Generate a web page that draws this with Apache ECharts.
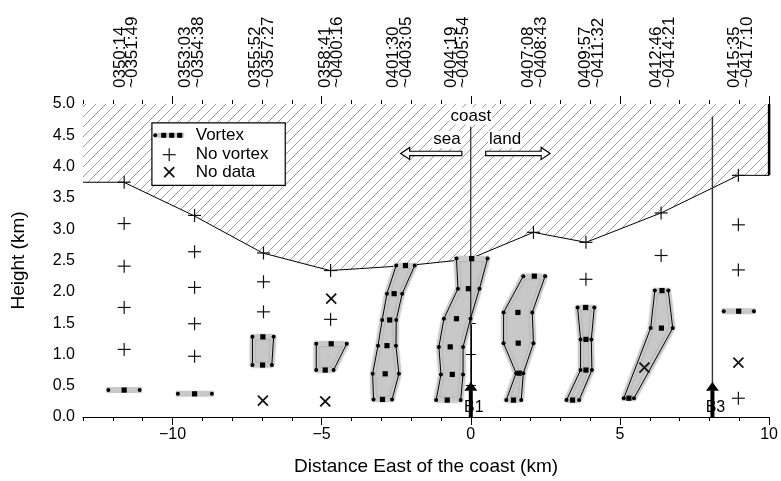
<!DOCTYPE html>
<html><head><meta charset="utf-8">
<script src="https://cdn.jsdelivr.net/npm/echarts@6/dist/echarts.min.js"></script>
<style>html,body{margin:0;padding:0;background:#fff}#c{width:781px;height:481px}</style>
</head><body><div id="c"></div>
<script>
const FONT = '"Liberation Sans", Arial, Helvetica, sans-serif';

// ---- top time labels ----
const timeLabelX = [-11.55, -9.35, -7.0, -4.67, -2.38, -0.45, 2.15, 4.05, 6.43, 9.05];
const timeStart = ['0350:14','0353:03','0355:52','0358:41','0401:30','0404:19','0407:08','0409:57','0412:46','0415:35'];
const timeEnd = ['~0351:49','~0354:38','~0357:27','~0400:16','~0403:05','~0405:54','~0408:43','~0411:32','~0414:21','~0417:10'];

// ---- x ticks / tick labels ----
const xMajorTicks = [-10, -5, 0, 5, 10];
const xMinorTicks = [-13,-12,-11,-10,-9,-8,-7,-6,-5,-4,-3,-2,-1,0,1,2,3,4,5,6,7,8,9,10];

// ---- upper limit of observation (hatched above) ----
const boundaryX = [-13, -11.63, -9.3, -6.98, -4.72, -3.73, -2.1, -0.51, 0.04, 2.1, 3.86, 6.38, 8.97, 10];
const boundaryH = [3.75, 3.75, 3.22, 2.62, 2.34, 2.37, 2.42, 2.5, 2.54, 2.95, 2.79, 3.26, 3.86, 3.86];

// ---- "No vortex" points ----
const plusX = [-11.62,-11.62,-11.62,-11.62,-11.62, -9.26,-9.26,-9.26,-9.26,-9.26, -6.95,-6.95,-6.95, -4.7,-4.7, 2.1, 3.86,3.86, 6.38,6.38, 8.97,8.97,8.97,8.97];
const plusH = [3.75,3.09,2.41,1.75,1.08, 3.22,2.64,2.07,1.49,0.97, 2.62,2.16,1.68, 2.34,1.56, 2.95, 2.79,2.2, 3.26,2.58, 3.86,3.07,2.35,0.3];

// ---- "No data" points ----
const noDataX = [-6.97, -4.68, -4.88, 5.82, 8.97];
const noDataH = [0.26, 1.89, 0.25, 0.79, 0.87];

// ---- vortex columns: heights, left edge, centre, right edge (km) ----
const vortexH = [[0.43],[0.37],[0.83,1.28],[0.75,1.17],[0.28,0.69,1.14,1.55,1.97,2.42],[0.27,0.68,1.12,1.57,2.05,2.53],[0.27,0.70,1.18,1.67,2.25],[0.27,0.75,1.24,1.75],[0.3,1.42,2.02],[1.69]];
const vortexL = [[-12.15],[-9.82],[-7.32,-7.32],[-5.18,-5.18],[-3.26,-3.29,-3.11,-2.97,-2.81,-2.5],[-1.16,-1.0,-1.07,-0.9,-0.43,-0.48],[1.19,1.52,1.1,1.1,1.76],[3.21,3.68,3.68,3.58],[5.13,6.03,6.17],[8.48]];
const vortexC = [[-11.62],[-9.26],[-6.98,-6.97],[-4.88,-4.68],[-2.96,-2.87,-2.81,-2.72,-2.57,-2.19],[-0.79,-0.62,-0.69,-0.48,-0.08,0.03],[1.43,1.62,1.59,1.58,2.13],[3.41,3.86,3.86,3.85],[5.3,6.39,6.41],[8.98]];
const vortexR = [[-11.1],[-8.68],[-6.67,-6.61],[-4.6,-4.16],[-2.64,-2.41,-2.51,-2.5,-2.3,-1.88],[-0.34,-0.26,-0.26,-0.01,0.29,0.56],[1.69,1.76,2.1,2.06,2.49],[3.63,4.06,4.04,4.14],[5.47,6.77,6.62],[9.49]];

// ---- radar sites ----
const radarX = [0, 8.1];
const radarName = ['B1', 'B3'];
const radarTop = [4.64, 4.8];

function hatchPattern(){
  const s = 10;
  const c = document.createElement('canvas'); c.width = s; c.height = s;
  const g = c.getContext('2d');
  g.fillStyle = '#fff'; g.fillRect(0,0,s,s);
  g.strokeStyle = '#909090'; g.lineWidth = 0.9;
  g.beginPath();
  g.moveTo(0,s); g.lineTo(s,0);
  g.moveTo(-1,1); g.lineTo(1,-1);
  g.moveTo(s-1,s+1); g.lineTo(s+1,s-1);
  g.stroke();
  return c;
}

const chart = echarts.init(document.getElementById('c'), null, {renderer:'canvas'});

function vortexItem(params, api){
  const i = params.dataIndex;
  const hs = vortexH[i], L = vortexL[i], C = vortexC[i], R = vortexR[i];
  const lp = hs.map((h,k)=>api.coord([L[k],h]));
  const rp = hs.map((h,k)=>api.coord([R[k],h]));
  const cp = hs.map((h,k)=>api.coord([C[k],h]));
  const ch = [];
  if (hs.length === 1){
    ch.push({type:'line', shape:{x1:lp[0][0]-2,y1:lp[0][1],x2:rp[0][0]+2,y2:rp[0][1]}, style:{stroke:'#c8c8c8', lineWidth:6}});
  } else {
    const poly = lp.concat(rp.slice().reverse());
    ch.push({type:'polygon', shape:{points:poly}, style:{fill:'#c8c8c8', stroke:'#cbcbcb', lineWidth:5, lineJoin:'round', shadowBlur:2, shadowColor:'rgba(0,0,0,0.25)'}});
    ch.push({type:'polyline', shape:{points:lp}, style:{stroke:'#000', lineWidth:1, fill:'none'}});
    ch.push({type:'polyline', shape:{points:rp}, style:{stroke:'#000', lineWidth:1, fill:'none'}});
  }
  lp.concat(rp).forEach(p=>ch.push({type:'circle', shape:{cx:p[0],cy:p[1],r:2}, style:{fill:'#000'}}));
  cp.forEach(p=>ch.push({type:'rect', shape:{x:p[0]-2.6,y:p[1]-2.6,width:5.2,height:5.2}, style:{fill:'#000'}}));
  return {type:'group', children:ch};
}

function plusShape(x, y, s){
  return {type:'group', children:[
    {type:'line', shape:{x1:x-s,y1:y,x2:x+s,y2:y}, style:{stroke:'#111', lineWidth:1.2}},
    {type:'line', shape:{x1:x,y1:y-s,x2:x,y2:y+s}, style:{stroke:'#111', lineWidth:1.2}}
  ]};
}
function crossShape(x, y, s){
  return {type:'group', children:[
    {type:'line', shape:{x1:x-s,y1:y-s,x2:x+s,y2:y+s}, style:{stroke:'#111', lineWidth:1.8}},
    {type:'line', shape:{x1:x-s,y1:y+s,x2:x+s,y2:y-s}, style:{stroke:'#111', lineWidth:1.8}}
  ]};
}
function hollowArrow(p0, p1){
  const dir = p1[0] > p0[0] ? 1 : -1;
  const y = p0[1], hw = 2.2, hh = 6, hl = 9;
  const xh = p1[0] - dir*hl;
  return {type:'polygon', shape:{points:[[p0[0],y-hw],[xh,y-hw],[xh,y-hh],[p1[0],y],[xh,y+hh],[xh,y+hw],[p0[0],y+hw]]},
    style:{fill:'#fff', stroke:'#000', lineWidth:1.2}};
}

const tickFont = {fontFamily: FONT, fontSize: 16, color:'#000'};

const option = {
  backgroundColor:'#fff',
  animation:false,
  grid:{left:83, right:9, top:104, bottom:64},
  xAxis:[
    {type:'value', position:'bottom', min:-13, max:10,
      axisLine:{show:true, lineStyle:{color:'#000', width:1}},
      axisTick:{show:true, length:4, customValues:xMinorTicks, lineStyle:{color:'#000'}},
      axisLabel:{show:false}, splitLine:{show:false}},
    {type:'value', position:'bottom', min:-13, max:10,
      axisLine:{show:false},
      axisTick:{show:true, length:8, customValues:xMajorTicks, lineStyle:{color:'#000'}},
      axisLabel:Object.assign({show:true, customValues:xMajorTicks, margin:10,
        formatter:v=> v<0 ? '\u2212'+Math.abs(v) : String(v)}, tickFont),
      splitLine:{show:false},
      name:'Distance East of the coast (km)', nameLocation:'middle', nameGap:40,
      nameTextStyle:{fontFamily:FONT, fontSize:19, color:'#000'}},
    {type:'value', position:'top', min:-13, max:10,
      axisLine:{show:true, lineStyle:{color:'#000', width:1}},
      axisTick:{show:true, length:4, customValues:xMinorTicks, lineStyle:{color:'#000'}},
      axisLabel:{show:false}, splitLine:{show:false}},
    {type:'value', position:'top', min:-13, max:10,
      axisLine:{show:false},
      axisTick:{show:true, length:8, customValues:xMajorTicks, lineStyle:{color:'#000'}},
      axisLabel:{show:false}, splitLine:{show:false}}
  ],
  yAxis:[
    {type:'value', position:'left', min:0, max:5, interval:0.5,
      axisLine:{show:true, lineStyle:{color:'#000'}},
      axisTick:{show:true, length:5, lineStyle:{color:'#000'}},
      axisLabel:Object.assign({formatter:v=>v.toFixed(1), margin:8}, tickFont),
      splitLine:{show:false},
      name:'Height (km)', nameLocation:'middle', nameGap:55, nameRotate:90,
      nameTextStyle:{fontFamily:FONT, fontSize:19, color:'#000'}},
    {type:'value', position:'right', min:0, max:5, interval:0.5,
      axisLine:{show:true, lineStyle:{color:'#000'}},
      axisTick:{show:true, length:5, lineStyle:{color:'#000'}},
      axisLabel:{show:false}, splitLine:{show:false}}
  ],
  series:[
    {type:'line', name:'limit', data:boundaryX.map((x,i)=>[x, boundaryH[i]]), symbol:'none', z:1,
      lineStyle:{color:'#000', width:1},
      areaStyle:{origin:'end', color:{image:hatchPattern(), repeat:'repeat'}, opacity:1}},
    {type:'line', name:'edge', data:[[10, boundaryH[boundaryH.length-1]],[10,5]], symbol:'none', z:2,
      lineStyle:{color:'#000', width:2.5}},
    {type:'custom', name:'Vortex', z:5, renderItem:vortexItem,
      data:vortexC.map((c,i)=>[c[0], vortexH[i][0]])},
    {type:'custom', name:'No vortex', z:6,
      data:plusX.map((x,i)=>[x, plusH[i]]),
      renderItem:(p,api)=>{const c=api.coord([api.value(0),api.value(1)]); return plusShape(c[0],c[1],6.5);}},
    {type:'custom', name:'No data', z:7,
      data:noDataX.map((x,i)=>[x, noDataH[i]]),
      renderItem:(p,api)=>{const c=api.coord([api.value(0),api.value(1)]); return crossShape(c[0],c[1],5);}},
    {type:'custom', name:'radar', z:8, clip:false,
      data:radarX.map((x,i)=>[x, 0]),
      renderItem:(p,api)=>{
        const i=p.dataIndex, x=radarX[i];
        const top=api.coord([x, radarTop[i]]), bot=api.coord([x,0]), tip=api.coord([x,0.56]), base=api.coord([x,0.42]);
        const col = i===0 ? '#000' : '#333';
        return {type:'group', children:[
          {type:'line', shape:{x1:top[0],y1:top[1],x2:bot[0],y2:bot[1]}, style:{stroke:col, lineWidth: i===0?1:1.4}},
          {type:'rect', shape:{x:bot[0]-2,y:base[1],width:4,height:bot[1]-base[1]}, style:{fill:'#000'}},
          {type:'polygon', shape:{points:[[tip[0],tip[1]],[tip[0]-6.5,base[1]],[tip[0]+6.5,base[1]]]}, style:{fill:'#000'}},
          {type:'text', x:bot[0]+3, y:bot[1]-1, style:{text:radarName[i], fontFamily:FONT, fontSize:16, fill:'#000', align:'center', verticalAlign:'bottom'}}
        ]};
      }},
    {type:'custom', name:'coast', z:9, clip:false,
      data:[[0, 4.81]],
      renderItem:(p,api)=>{
        const c=api.coord([0,4.81]), s=api.coord([-0.8,4.43]), l=api.coord([1.15,4.43]);
        const a0=api.coord([-0.3,4.21]), a1=api.coord([-2.35,4.21]), b0=api.coord([0.5,4.21]), b1=api.coord([2.66,4.21]);
        const tf = {fontFamily:FONT, fontSize:17, fill:'#000', align:'center', verticalAlign:'middle', backgroundColor:'#fff', padding:[0,1]};
        return {type:'group', children:[
          {type:'text', x:c[0], y:c[1], style:Object.assign({text:'coast'}, tf)},
          {type:'text', x:s[0], y:s[1], style:Object.assign({text:'sea'}, tf)},
          {type:'text', x:l[0], y:l[1], style:Object.assign({text:'land'}, tf)},
          hollowArrow(a0, a1), hollowArrow(b0, b1)
        ]};
      }},
    {type:'custom', name:'legend', z:10, clip:false,
      data:[[-10.69, 4.70]],
      renderItem:(p,api)=>{
        const tl=api.coord([-10.69,4.70]), br=api.coord([-6.22,3.70]);
        const r1=api.coord([-10.11,4.5]), r2=api.coord([-10.11,4.19]), r3=api.coord([-10.11,3.91]);
        const tx=api.coord([-9.22,4.5])[0];
        const tf = {fontFamily:FONT, fontSize:17, fill:'#000', align:'left', verticalAlign:'middle'};
        const bx0 = r1[0]-15, bx1 = r1[0]+15;
        return {type:'group', children:[
          {type:'rect', shape:{x:tl[0],y:tl[1],width:br[0]-tl[0],height:br[1]-tl[1]}, style:{fill:'#fff', stroke:'#000', lineWidth:1.2}},
          {type:'line', shape:{x1:bx0,y1:r1[1],x2:bx1,y2:r1[1]}, style:{stroke:'#c8c8c8', lineWidth:5}},
          {type:'circle', shape:{cx:bx0+1,cy:r1[1],r:2}, style:{fill:'#000'}},
          {type:'rect', shape:{x:bx0+7,y:r1[1]-2.5,width:5,height:5}, style:{fill:'#000'}},
          {type:'rect', shape:{x:bx0+15,y:r1[1]-2.5,width:5,height:5}, style:{fill:'#000'}},
          {type:'rect', shape:{x:bx0+23,y:r1[1]-2.5,width:5,height:5}, style:{fill:'#000'}},
          plusShape(r2[0], r2[1], 6.5),
          crossShape(r3[0], r3[1], 5),
          {type:'text', x:tx, y:r1[1], style:Object.assign({text:'Vortex'}, tf)},
          {type:'text', x:tx, y:r2[1], style:Object.assign({text:'No vortex'}, tf)},
          {type:'text', x:tx, y:r3[1], style:Object.assign({text:'No data'}, tf)}
        ]};
      }},
    {type:'custom', name:'times', z:11, clip:false,
      data:timeLabelX.map(x=>[x,5]),
      renderItem:(p,api)=>{
        const i=p.dataIndex; const c=api.coord([timeLabelX[i],5]);
        return {type:'text', x:c[0], y:c[1]-16, rotation:Math.PI/2,
          style:{text:timeStart[i]+'\n'+timeEnd[i], fontFamily:FONT, fontSize:17, lineHeight:12.5, fill:'#000', align:'left', verticalAlign:'middle'}};
      }}
  ]
};
chart.setOption(option);
</script></body></html>
